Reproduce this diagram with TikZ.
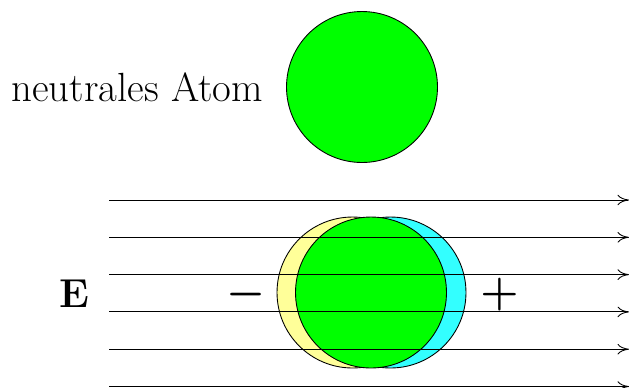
\documentclass[tikz,border=0pt]{standalone}
\usepackage{tikz}
\usetikzlibrary{arrows.meta,positioning}
\definecolor{atomgreen}{HTML}{00FF00}
\definecolor{paleyellow}{HTML}{FFFF99}
\definecolor{shiftcyan}{HTML}{33FFFF}
\tikzset{
  atom/.style={circle,draw=black,line width=0.5pt,minimum size=3.02cm,inner sep=0pt},
  feld/.style={-{To[length=6.5pt,width=6pt]},line width=0.5pt},
  charge/.style={font=\fontsize{25}{30}\selectfont\boldmath,inner sep=0pt},
}
\begin{document}
\begin{tikzpicture}[x=0.02cm,y=-0.02cm]
  \useasboundingbox (0,0) rectangle (629,387);
  % neutral atom
  \node[atom,fill=atomgreen] (neutral) at (362,87) {};
  \node[font=\fontsize{23.2}{28}\selectfont,left=0.34cm of neutral] (label) {neutrales Atom};
  % polarised atom
  \node[atom,fill=paleyellow] (neg) at (352.5,292.5) {};
  \node[atom,fill=shiftcyan] (pos) at (390.5,292.5) {};
  \node[atom,fill=atomgreen] (core) at (371,292.5) {};
  % field lines
  \foreach \i in {0,...,5} {
    \coordinate (s\i) at (109,200+37.3*\i);
    \coordinate (e\i) at (629,200+37.3*\i);
    \draw[feld] (s\i) -- (e\i);
  }
  \node[font=\fontsize{23}{28}\selectfont\bfseries] (field) at (74,294) {E};
  \node[charge] (minus) at (246.5,295) {$-$};
  \node[charge] (plus) at (499.5,295) {$+$};
\end{tikzpicture}
\end{document}
